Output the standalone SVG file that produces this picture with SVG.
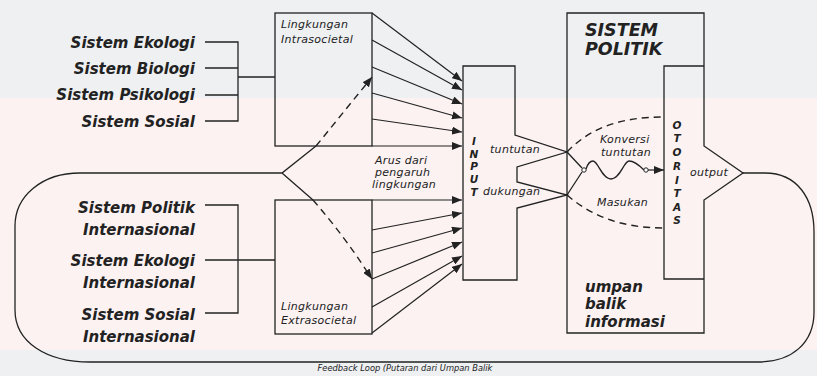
<svg xmlns="http://www.w3.org/2000/svg" width="817" height="376" viewBox="0 0 817 376">
<style>
.ln{fill:none;stroke:#222;stroke-width:1.3}
.ar{fill:none;stroke:#222;stroke-width:1.2;marker-end:url(#ah)}
.da{fill:none;stroke:#222;stroke-width:1.4;stroke-dasharray:7,5}
.big{font-family:"DejaVu Sans",sans-serif;font-weight:bold;font-style:oblique;font-size:15px;fill:#222;text-anchor:end}
.sm{font-family:"DejaVu Sans",sans-serif;font-style:oblique;font-size:11px;letter-spacing:0.3px;fill:#222}
.ttl{font-family:"DejaVu Sans",sans-serif;font-weight:bold;font-style:oblique;font-size:17.5px;fill:#222}
.mid{font-family:"DejaVu Sans",sans-serif;font-weight:bold;font-style:oblique;font-size:15px;fill:#222}
.vl{font-family:"DejaVu Sans",sans-serif;font-weight:bold;font-style:oblique;font-size:10.5px;fill:#222;text-anchor:middle}
.fb{font-family:"DejaVu Sans",sans-serif;font-style:oblique;font-size:8.3px;fill:#222;text-anchor:middle}
</style>
<defs>
<marker id="ah" markerUnits="userSpaceOnUse" markerWidth="10" markerHeight="8" refX="10" refY="4" orient="auto">
<path d="M0,0 L10,4 L0,8 z" fill="#222"/>
</marker>
</defs>
<rect x="0" y="0" width="817" height="376" fill="#fcf2f2"/>
<rect x="0" y="0" width="817" height="98" fill="#eef0f2"/>
<rect x="0" y="350" width="817" height="26" fill="#eef0f2"/>

<g id="left-upper">
<text class="big" x="195" y="48">Sistem Ekologi</text>
<text class="big" x="195" y="74">Sistem Biologi</text>
<text class="big" x="195" y="100">Sistem Psikologi</text>
<text class="big" x="195" y="127">Sistem Sosial</text>
</g>
<g id="left-lower">
<text class="big" x="195" y="213">Sistem Politik</text>
<text class="big" x="195" y="235">Internasional</text>
<text class="big" x="195" y="266">Sistem Ekologi</text>
<text class="big" x="195" y="288">Internasional</text>
<text class="big" x="195" y="320">Sistem Sosial</text>
<text class="big" x="195" y="342">Internasional</text>
</g>

<g id="intrasocietal">
<rect class="ln" x="275" y="13" width="97" height="133"/>
<text class="sm" x="281" y="28">Lingkungan</text>
<text class="sm" x="281" y="43">Intrasocietal</text>
</g>
<g id="extrasocietal">
<rect class="ln" x="275" y="200" width="97" height="134"/>
<text class="sm" x="281" y="310">Lingkungan</text>
<text class="sm" x="281" y="324">Extrasocietal</text>
</g>

<g id="input">
<path class="ln" d="M463,66 L515,66 L515,135 L567,152 L517,167 L517,182 L567,195 L517,208 L517,280 L463,280 Z"/>
<text class="vl" x="474" y="145">I</text>
<text class="vl" x="474" y="158">N</text>
<text class="vl" x="474" y="170">P</text>
<text class="vl" x="474" y="183">U</text>
<text class="vl" x="474" y="196">T</text>
<text class="sm" x="490" y="153">tuntutan</text>
<text class="sm" x="483" y="195">dukungan</text>
</g>

<g id="sistem-politik">
<path class="ln" d="M567,13 L704,13 L704,146 L743,173 L704,200 L704,333 L567,333 Z"/>
<text class="ttl" x="585" y="36">SISTEM</text>
<text class="ttl" x="585" y="55">POLITIK</text>
<text class="mid" x="585" y="292">umpan</text>
<text class="mid" x="585" y="309">balik</text>
<text class="mid" x="585" y="327">informasi</text>
<text class="sm" x="600" y="143">Konversi</text>
<text class="sm" x="601" y="156">tuntutan</text>
<text class="sm" x="597" y="206">Masukan</text>
<text class="sm" x="690" y="176">output</text>
</g>
<g id="otoritas">
<path class="ln" d="M704,66 L664,66 L664,279 L704,279"/>
<text class="vl" x="677" y="129">O</text>
<text class="vl" x="677" y="142">T</text>
<text class="vl" x="677" y="156">O</text>
<text class="vl" x="677" y="170">R</text>
<text class="vl" x="677" y="184">I</text>
<text class="vl" x="677" y="197">T</text>
<text class="vl" x="677" y="211">A</text>
<text class="vl" x="677" y="224">S</text>
</g>

<g id="connectors">
<path class="ln" d="M205,42 H238 V121 H205 M205,68 H238 M205,95 H238 M238,77 H275"/>
<path class="ln" d="M205,205 H238 V313 H205 M205,260 H275"/>
<line class="ar" x1="372" y1="13" x2="462" y2="81"/>
<line class="ar" x1="372" y1="40" x2="462" y2="90"/>
<line class="ar" x1="372" y1="67" x2="462" y2="104"/>
<line class="ar" x1="372" y1="93" x2="462" y2="118"/>
<line class="ar" x1="372" y1="119" x2="462" y2="132"/>
<line class="ar" x1="372" y1="146" x2="462" y2="146"/>
<line class="ar" x1="372" y1="200" x2="462" y2="200"/>
<line class="ar" x1="372" y1="230" x2="462" y2="213"/>
<line class="ar" x1="372" y1="253" x2="462" y2="228"/>
<line class="ar" x1="372" y1="279" x2="462" y2="242"/>
<line class="ar" x1="372" y1="307" x2="462" y2="256"/>
<line class="ar" x1="372" y1="333" x2="462" y2="264"/>
<path class="ln" d="M743,173 L765,173 C797,173 814,198 814,232 L814,312 C814,343 792,362 758,362 L90,362 C46,362 15,342 15,310 L15,226 C15,196 42,173 80,173 L282,173 L316,146 M282,173 L313,200"/>
<path class="da" d="M316,146 L368,82"/>
<path class="ar" d="M368,82 L372,77"/>
<path class="da" d="M313,200 Q345,237 368,273"/>
<path class="ar" d="M368,273 L372,279"/>
<path class="ln" d="M567,152 L582,168 M567,195 L582,172"/>
<path class="da" d="M567,152 C590,128 620,117 664,117"/>
<path class="da" d="M567,195 C590,215 620,228 664,228"/>
<path class="ln" d="M586,169 C588,163 590,161 593,161 C598,161 602,179 611,179 C620,179 624,161 629,161 C634,161 640,166 644,170"/>
<circle cx="584" cy="170" r="2.2" fill="#fff" stroke="#222" stroke-width="1"/>
<circle cx="646" cy="170" r="2.2" fill="#fff" stroke="#222" stroke-width="1"/>
<line class="ar" x1="648" y1="170" x2="664" y2="170"/>
</g>

<g id="labels">
<text class="sm" x="375" y="164">Arus dari</text>
<text class="sm" x="375" y="176">pengaruh</text>
<text class="sm" x="372" y="188">lingkungan</text>
<text class="fb" x="405" y="371">Feedback Loop (Putaran dari Umpan Balik</text>
</g>
</svg>
